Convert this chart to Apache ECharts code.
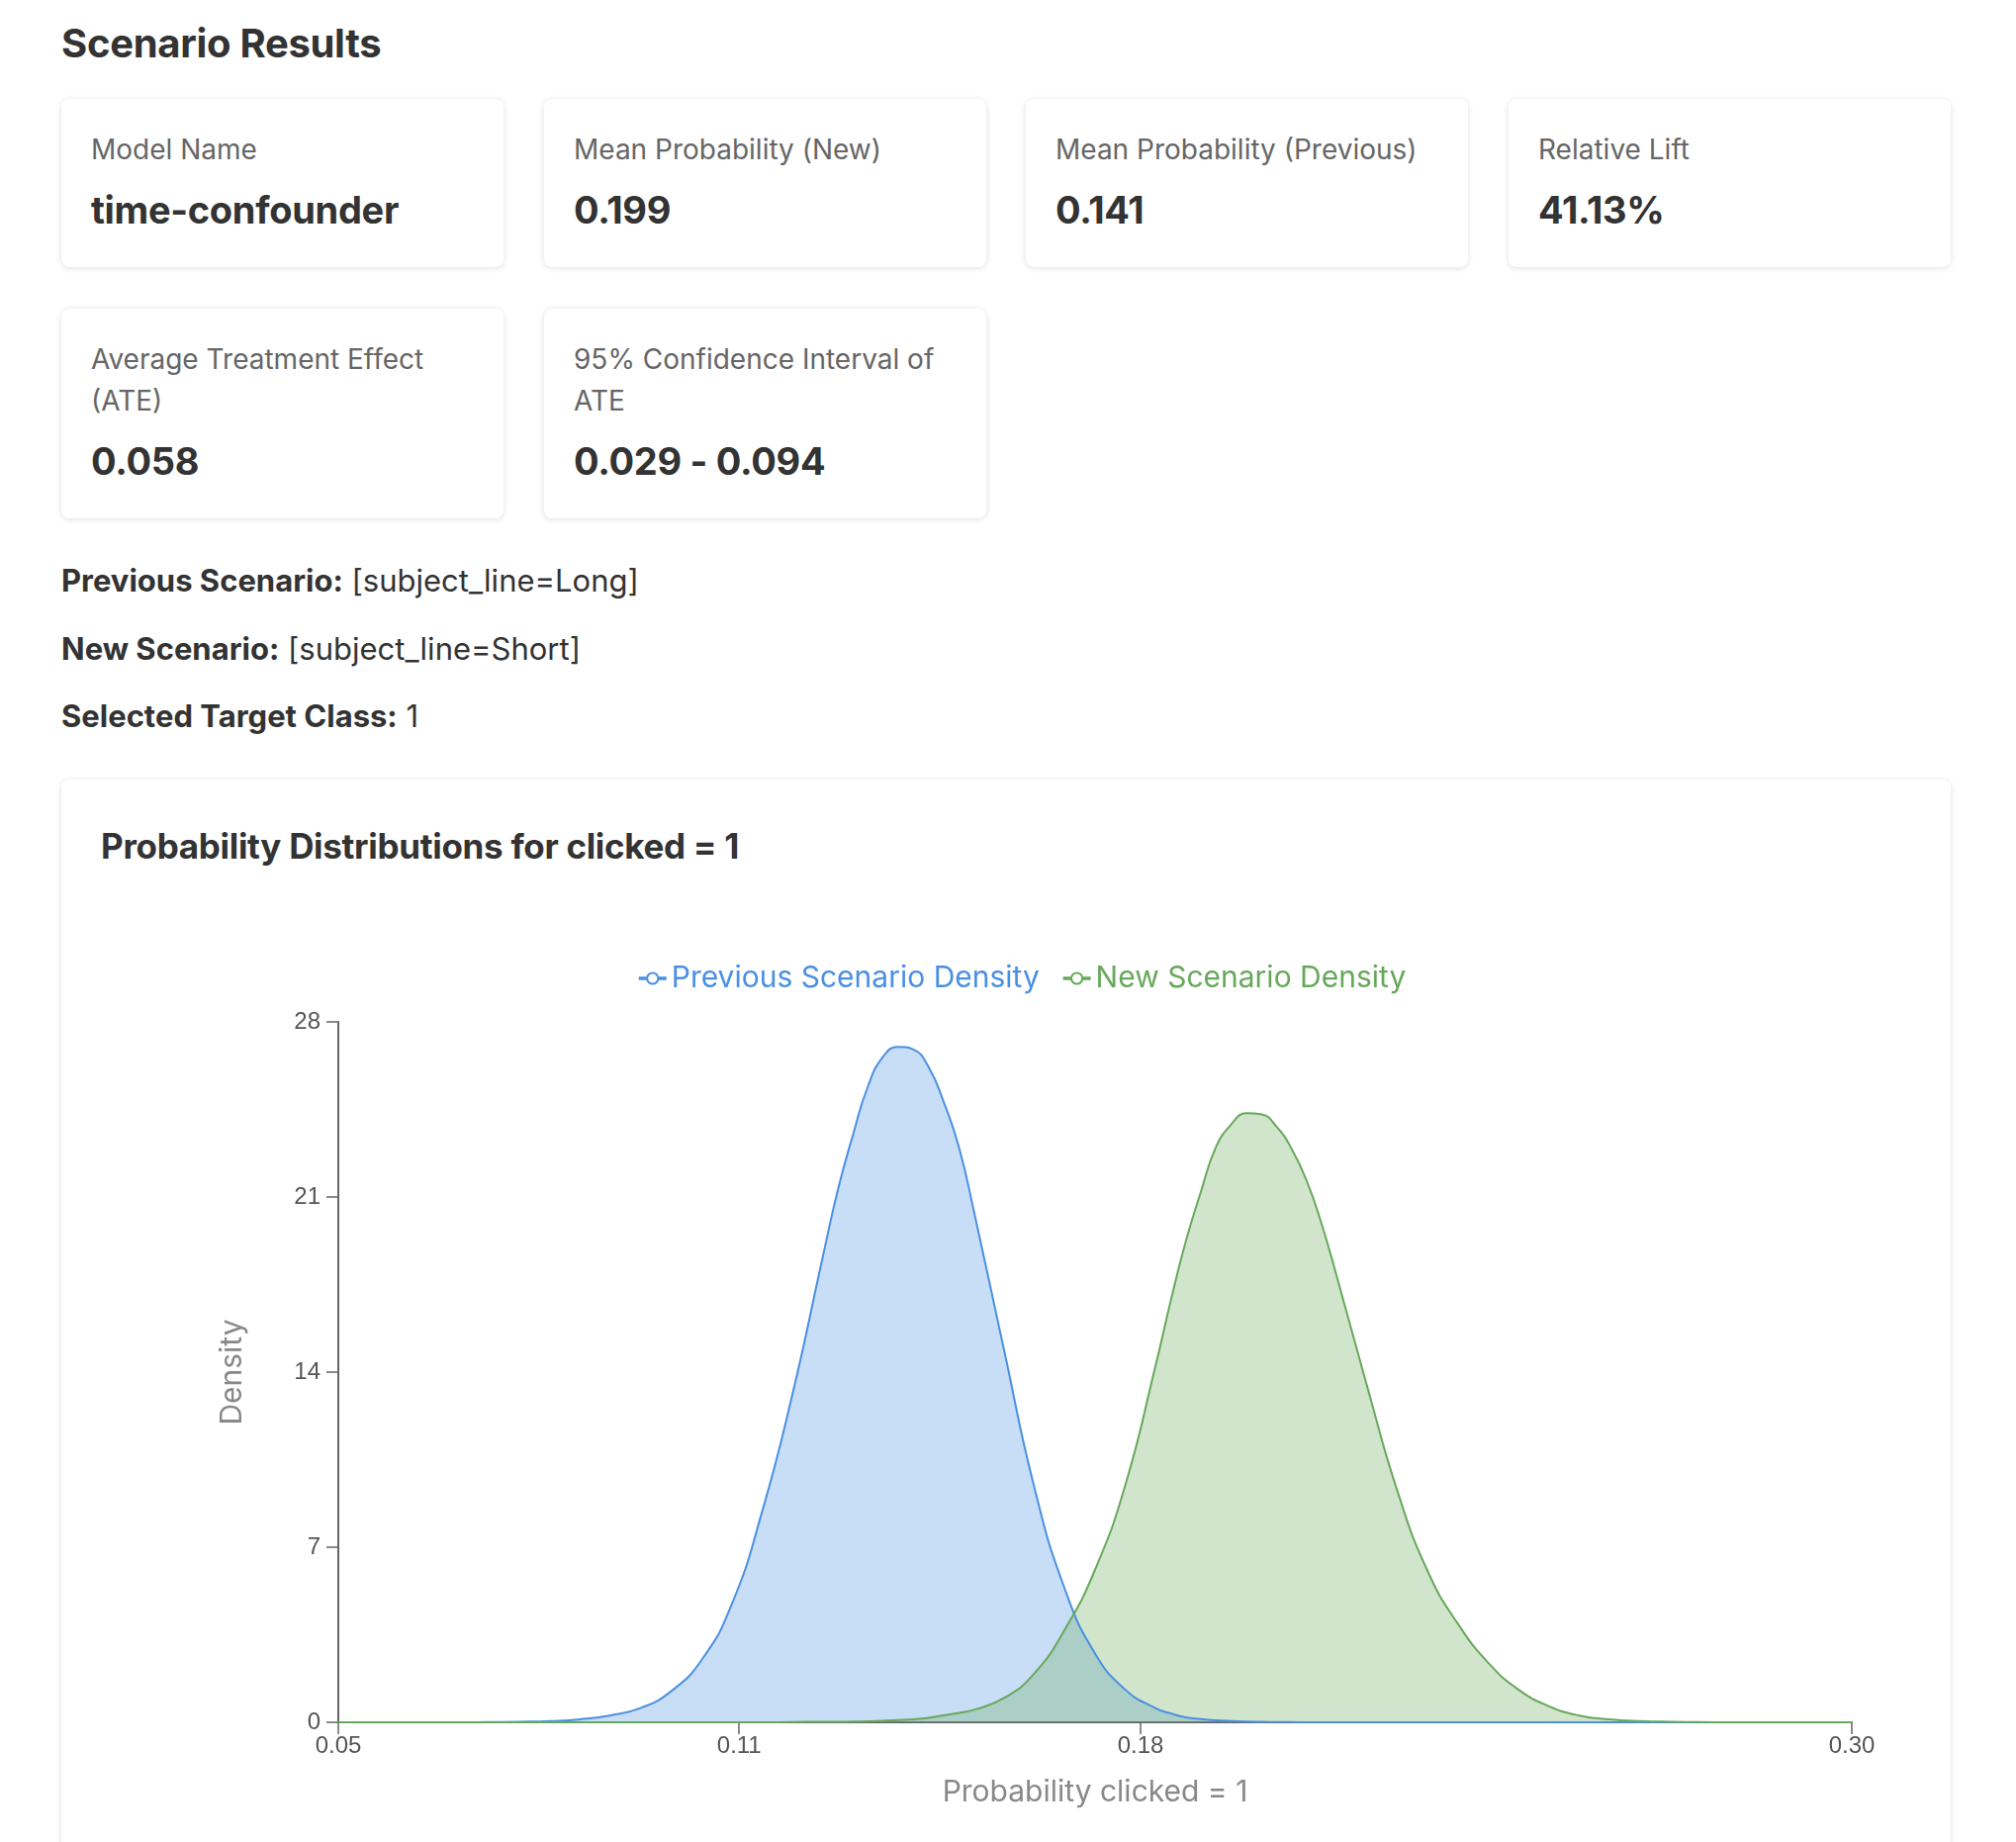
<!DOCTYPE html>
<html>
<head>
<meta charset="utf-8">
<script src="https://cdn.jsdelivr.net/npm/echarts@6/dist/echarts.min.js"></script>
<style>
html,body{margin:0;padding:0;background:#fff;}
body{width:2038px;height:1862px;overflow:hidden;position:relative;font-family:Inter,"Noto Sans",sans-serif;color:#333;}
h2{position:absolute;left:62px;top:20px;margin:0;font-size:40px;font-weight:700;line-height:48px;color:#333;letter-spacing:-0.3px;}
.card{position:absolute;background:#fff;border-radius:8px;box-shadow:0 1px 6px rgba(0,0,0,0.13);box-sizing:border-box;padding:30px;}
.label{font-size:28px;line-height:42px;color:#666;}
.value{font-size:38px;line-height:54px;font-weight:700;margin-top:13px;color:#333;letter-spacing:-0.3px;}
.info{position:absolute;left:62px;margin:0;font-size:31px;line-height:42px;color:#333;}
.info b{font-weight:700;}
#chartCard{left:62px;top:788px;width:1910px;height:1140px;padding:0;}
#chartTitle{position:absolute;left:102px;top:835px;margin:0;font-size:35px;line-height:40px;font-weight:700;color:#333;letter-spacing:-0.3px;}
#chart{position:absolute;left:62px;top:880px;width:1910px;height:982px;}
</style>
</head>
<body>
<h2>Scenario Results</h2>

<div class="card" style="left:62px;top:100px;width:447px;height:170px;"><div class="label">Model Name</div><div class="value">time-confounder</div></div>
<div class="card" style="left:550px;top:100px;width:447px;height:170px;"><div class="label">Mean Probability (New)</div><div class="value">0.199</div></div>
<div class="card" style="left:1037px;top:100px;width:447px;height:170px;"><div class="label">Mean Probability (Previous)</div><div class="value">0.141</div></div>
<div class="card" style="left:1525px;top:100px;width:447px;height:170px;"><div class="label">Relative Lift</div><div class="value">41.13%</div></div>

<div class="card" style="left:62px;top:312px;width:447px;height:212px;"><div class="label">Average Treatment Effect (ATE)</div><div class="value">0.058</div></div>
<div class="card" style="left:550px;top:312px;width:447px;height:212px;"><div class="label">95% Confidence Interval of ATE</div><div class="value">0.029 - 0.094</div></div>

<p class="info" style="top:566px;"><b>Previous Scenario:</b> [subject_line=Long]</p>
<p class="info" style="top:635px;"><b>New Scenario:</b> [subject_line=Short]</p>
<p class="info" style="top:703px;"><b>Selected Target Class:</b> 1</p>

<div class="card" id="chartCard"></div>
<h3 id="chartTitle">Probability Distributions for clicked = 1</h3>
<div id="chart"></div>

<script>
// Probability grid (x)
const probability = [0.0455, 0.0507, 0.0559, 0.0610, 0.0662, 0.0714, 0.0766, 0.0818, 0.0869, 0.0921,
  0.0973, 0.1025, 0.1077, 0.1128, 0.1180, 0.1232, 0.1284, 0.1310, 0.1336, 0.1361,
  0.1387, 0.1413, 0.1439, 0.1465, 0.1491, 0.1517, 0.1543, 0.1595, 0.1646, 0.1698,
  0.1750, 0.1802, 0.1854, 0.1879, 0.1905, 0.1931, 0.1957, 0.1983, 0.2009, 0.2035,
  0.2061, 0.2087, 0.2113, 0.2138, 0.2164, 0.2216, 0.2268, 0.2320, 0.2372, 0.2424,
  0.2475, 0.2527, 0.2579, 0.2631, 0.2683, 0.2734, 0.2786, 0.2838, 0.2890, 0.2942,
  0.2993, 0.3045];

// Previous scenario density
const prevDensity = [0, 0, 0, 0, 0, 0.01, 0.02, 0.05, 0.12, 0.28,
  0.58, 1.25, 2.5, 4.7, 8.4, 13.1, 18.6, 21.3, 23.5, 25.4,
  26.6, 27.0, 26.9, 26.2, 24.8, 23.0, 20.4, 14.8, 9.4, 5.35,
  2.75, 1.3, 0.56, 0.36, 0.2, 0.13, 0.08, 0.05, 0.03, 0.02,
  0.01, 0.005, 0, 0, 0, 0, 0, 0, 0, 0,
  0, 0, 0, 0, 0, 0, 0, 0, 0, 0,
  0, 0];

// New scenario density
const newDensity = [0, 0, 0, 0, 0, 0, 0, 0, 0, 0,
  0, 0, 0, 0, 0, 0.01, 0.02, 0.02, 0.03, 0.04,
  0.06, 0.09, 0.12, 0.18, 0.28, 0.38, 0.5, 0.98, 1.95, 3.7,
  6.1, 9.5, 14.3, 16.8, 19.2, 21.2, 23.0, 23.9, 24.35, 24.3,
  23.8, 22.9, 21.6, 19.9, 17.8, 13.4, 9.2, 6.0, 3.9, 2.35,
  1.3, 0.64, 0.27, 0.12, 0.05, 0.02, 0.01, 0, 0, 0,
  0, 0];

const seriesNames = ['Previous Scenario Density', 'New Scenario Density'];
const seriesColors = ['#4a90e2', '#67a85b'];

// Axis ticks
const xMin = 0.0455, xMax = 0.3045;
const xTickValues = [0.0455, 0.1141, 0.1828, 0.3045];
const yMin = 0, yMax = 28, yInterval = 7;

const chart = echarts.init(document.getElementById('chart'), null, {renderer: 'canvas'});

const option = {
  animation: false,
  legend: {
    top: 89,
    left: 577,
    itemWidth: 28,
    itemHeight: 14,
    itemGap: 22,
    lineStyle: {width: 3.5},
    itemStyle: {borderWidth: 3},
    textStyle: {fontFamily: 'Inter', fontSize: 30},
    data: seriesNames.map((n, i) => ({name: n, textStyle: {color: seriesColors[i]}}))
  },
  grid: {left: 280, top: 153, width: 1530, height: 708, containLabel: false},
  xAxis: {
    type: 'value',
    min: xMin,
    max: xMax,
    name: 'Probability clicked = 1',
    nameLocation: 'middle',
    nameGap: 56,
    nameTextStyle: {fontFamily: 'Inter', fontSize: 30, color: '#888'},
    axisLine: {show: true, lineStyle: {color: '#666', width: 2}},
    axisTick: {show: true, length: 12, customValues: xTickValues, lineStyle: {color: '#666', width: 1.5}},
    axisLabel: {customValues: xTickValues, formatter: v => v.toFixed(2), margin: 12,
      fontFamily: 'Liberation Sans', fontSize: 24, color: '#555'},
    splitLine: {show: false}
  },
  yAxis: {
    type: 'value',
    min: yMin,
    max: yMax,
    interval: yInterval,
    name: 'Density',
    nameLocation: 'middle',
    nameGap: 92,
    nameTextStyle: {fontFamily: 'Inter', fontSize: 30, color: '#888'},
    axisLine: {show: true, lineStyle: {color: '#666', width: 2}},
    axisTick: {show: true, length: 12, lineStyle: {color: '#666', width: 1.5}},
    axisLabel: {margin: 18, fontFamily: 'Liberation Sans', fontSize: 24, color: '#555'},
    splitLine: {show: false}
  },
  series: [prevDensity, newDensity].map((arr, i) => ({
    name: seriesNames[i],
    type: 'line',
    data: probability.map((x, j) => [x, arr[j]]),
    smooth: 0.5,
    showSymbol: false,
    symbol: 'emptyCircle',
    symbolSize: 9,
    color: seriesColors[i],
    lineStyle: {width: 2, color: seriesColors[i]},
    areaStyle: {color: seriesColors[i], opacity: 0.3}
  }))
};
chart.setOption(option);
</script>
</body>
</html>
